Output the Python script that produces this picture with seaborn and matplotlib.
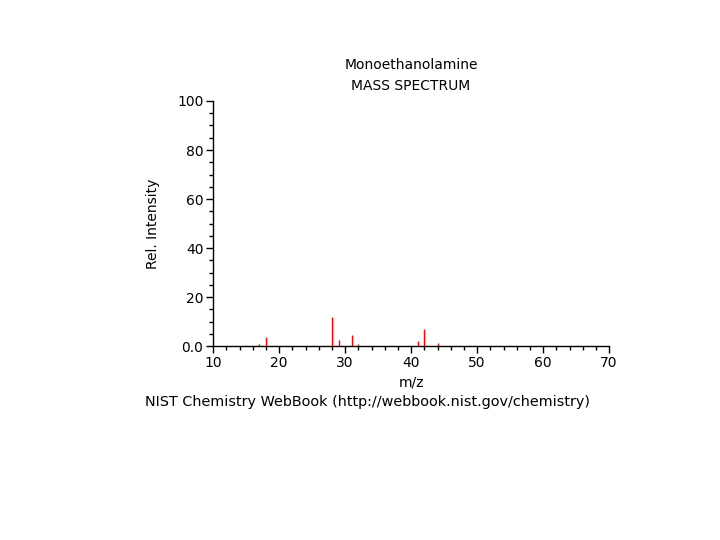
import numpy as np
import pandas as pd
import matplotlib
matplotlib.use("Agg")
import matplotlib.pyplot as plt
import seaborn as sns
from matplotlib.ticker import MultipleLocator

# peaks (m/z, relative intensity)
mz = [17, 18, 28, 29, 31, 32, 41, 42, 44]
intensity = [1.0, 3.7, 11.8, 2.7, 4.4, 1.0, 2.3, 6.8, 1.1]
x_ticks = [10, 20, 30, 40, 50, 60, 70]
y_ticks = [0, 20, 40, 60, 80, 100]
y_labels = ["0.0", "20", "40", "60", "80", "100"]

df = pd.DataFrame({"mz": mz, "intensity": intensity})

sns.set_style("ticks")
plt.rcParams["font.family"] = ["DejaVu Sans"]
plt.rcParams["text.color"] = "black"
plt.rcParams["axes.labelcolor"] = "black"
plt.rcParams["xtick.color"] = "black"
plt.rcParams["ytick.color"] = "black"

fig = plt.figure(figsize=(7.2, 5.4), dpi=100)
ax = fig.add_axes([0.296, 0.359, 0.55, 0.454])

ax.vlines(df["mz"], 0, df["intensity"], color="red", linewidth=1)

ax.set_xlim(10, 70)
ax.set_ylim(0, 100)
ax.set_xticks(x_ticks)
ax.set_yticks(y_ticks)
ax.set_yticklabels(y_labels)
ax.xaxis.set_minor_locator(MultipleLocator(2))
ax.yaxis.set_minor_locator(MultipleLocator(5))
ax.tick_params(axis="both", which="major", length=5, width=1, labelsize=10, pad=2, color="black")
ax.tick_params(axis="both", which="minor", length=3, width=1, color="black")
sns.despine(ax=ax)
for s in ["left", "bottom"]:
    ax.spines[s].set_color("black")
    ax.spines[s].set_linewidth(1)

ax.set_xlabel("m/z", fontsize=10, labelpad=4)
ax.set_ylabel("Rel. Intensity", fontsize=10, labelpad=12)

fig.text(0.571, 0.880, "Monoethanolamine", ha="center", va="center", fontsize=10)
fig.text(0.571, 0.841, "MASS SPECTRUM", ha="center", va="center", fontsize=10)
fig.text(0.511, 0.255, "NIST Chemistry WebBook (http://webbook.nist.gov/chemistry)",
         ha="center", va="center", fontsize=10.4)

fig.savefig("out.png", dpi=100, facecolor="white")
